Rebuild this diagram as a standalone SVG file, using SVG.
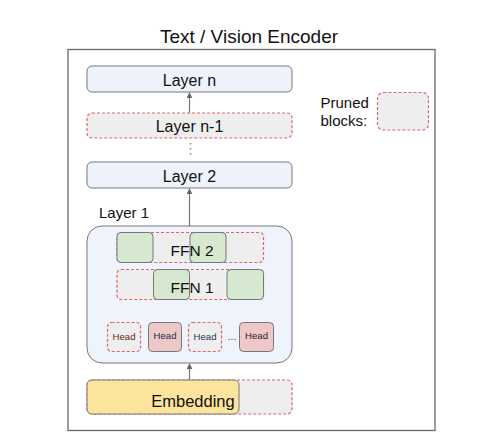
<svg xmlns="http://www.w3.org/2000/svg" width="477" height="441" viewBox="0 0 477 441">
<defs>
<marker id="arr" viewBox="0 0 8 8" refX="7" refY="4" markerWidth="6" markerHeight="6" orient="auto" markerUnits="userSpaceOnUse">
<path d="M0,0 L8,4 L0,8 z" fill="#666"/>
</marker>
</defs>
<style>
text{font-family:"Liberation Sans",Arial,sans-serif;fill:#111}
.layer{fill:#edf2fb;stroke:#777;stroke-width:1}
.pruned{fill:#eeeeee;stroke:#e06666;stroke-width:1.2;stroke-dasharray:3 2}
.green{fill:#d6e8d0;stroke:#777;stroke-width:1}
.pink{fill:#ecc8c8;stroke:#777;stroke-width:1}
.lbl{font-size:16px;text-anchor:middle}
.head{font-size:9.6px;text-anchor:middle}
.conn{stroke:#777;stroke-width:1.2;fill:none}
</style>
<rect width="477" height="441" fill="#fff"/>
<text x="249" y="43" style="font-size:19px;text-anchor:middle">Text / Vision Encoder</text>
<rect id="frame" x="68" y="49.5" width="367" height="381" fill="none" stroke="#666" stroke-width="1.3"/>

<g id="connectors">
<line class="conn" x1="189.5" y1="113" x2="189.5" y2="93" marker-end="url(#arr)"/>
<line x1="190.5" y1="143" x2="190.5" y2="158" stroke="#888" stroke-width="1.6" stroke-dasharray="1.5 3.5"/>
<line class="conn" x1="189.5" y1="226" x2="189.5" y2="189" marker-end="url(#arr)"/>
<line class="conn" x1="189.5" y1="380" x2="189.5" y2="364" marker-end="url(#arr)"/>
</g>

<g id="layer-n">
<rect class="layer" x="87" y="66" width="205" height="26" rx="5"/>
<text class="lbl" x="189.5" y="85.5">Layer n</text>
</g>
<g id="layer-n-1">
<rect class="pruned" x="87" y="113" width="205" height="25" rx="5"/>
<text class="lbl" x="189.5" y="131.5">Layer n-1</text>
</g>
<g id="layer-2">
<rect class="layer" x="87" y="162" width="205" height="26" rx="5"/>
<text class="lbl" x="189.5" y="181.5">Layer 2</text>
</g>

<g id="legend">
<text x="320.5" y="107.5" style="font-size:15px">Pruned</text>
<text x="320.5" y="126" style="font-size:15px">blocks:</text>
<rect class="pruned" x="377.5" y="92.5" width="51" height="37.5" rx="6"/>
</g>

<g id="layer-1">
<text x="99" y="218" style="font-size:15px">Layer 1</text>
<rect x="87" y="226" width="205" height="137" rx="15" fill="#eef3fc" stroke="#777" stroke-width="1"/>
<g id="ffn-2">
<rect class="pruned" x="117" y="232.5" width="146.5" height="30" rx="4"/>
<rect class="green" x="117" y="232.5" width="36" height="30" rx="4"/>
<rect class="green" x="190" y="232.5" width="36" height="30" rx="4"/>
<text class="lbl" x="192" y="256" style="font-size:15.5px">FFN 2</text>
</g>
<g id="ffn-1">
<rect class="pruned" x="117" y="269.5" width="146.5" height="30" rx="4"/>
<rect class="green" x="153.5" y="269.5" width="36" height="30" rx="4"/>
<rect class="green" x="227" y="269.5" width="36.5" height="30" rx="4"/>
<text class="lbl" x="192" y="293" style="font-size:15.5px">FFN 1</text>
</g>
<g id="heads">
<rect class="pruned" x="107.5" y="322.5" width="33" height="29" rx="4"/>
<text class="head" x="124" y="339.5" style="fill:#5a2a10">Head</text>
<rect class="pink" x="148.5" y="322.5" width="33" height="29" rx="4"/>
<text class="head" x="165" y="338.5" style="fill:#1f2a44">Head</text>
<rect class="pruned" x="188.5" y="322.5" width="33" height="29" rx="4"/>
<text class="head" x="205" y="339.5" style="fill:#1c3560">Head</text>
<text x="232" y="340" style="font-size:10px;text-anchor:middle;fill:#444">...</text>
<rect class="pink" x="239.5" y="322.5" width="34" height="29" rx="4"/>
<text class="head" x="256.5" y="338.5" style="fill:#3a1a1a">Head</text>
</g>
</g>

<g id="embedding">
<rect class="pruned" x="87" y="380" width="205" height="34" rx="5"/>
<rect x="87" y="380" width="152" height="34" rx="5" fill="#fde49c" stroke="#777" stroke-width="1"/>
<text class="lbl" x="193" y="407" style="font-size:16.5px">Embedding</text>
</g>
</svg>
